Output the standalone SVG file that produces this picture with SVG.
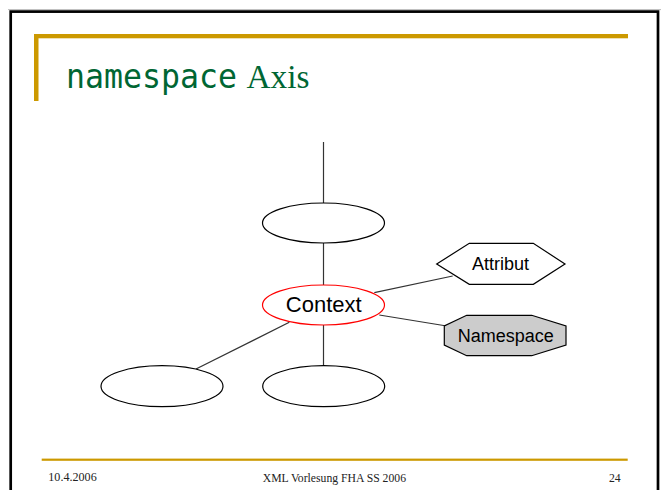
<svg xmlns="http://www.w3.org/2000/svg" width="667" height="490" viewBox="0 0 667 490">
<style>
.frame{fill:none;stroke:#000;stroke-width:2.7}
.gold{fill:#CC9900}
.edge{stroke:#333;stroke-width:1.2;fill:none}
.node{fill:#fff;stroke:#000;stroke-width:1.2}
.lbl{font-family:"Liberation Sans",Arial,sans-serif;fill:#000;text-anchor:middle}
.foot{font-family:"Liberation Serif","DejaVu Serif",serif;font-size:11.5px;fill:#222}
</style>
<rect width="667" height="490" fill="#fff"/>
<line x1="8" y1="9.6" x2="661" y2="9.6" stroke="#bbb" stroke-width="1"/>
<rect class="frame" x="10.7" y="11.6" width="647.3" height="490"/>
<g id="header">
<rect class="gold" x="34" y="34" width="594" height="4.3"/>
<rect class="gold" x="34" y="34" width="4.5" height="67"/>
<text x="66" y="88" font-family="'DejaVu Sans Mono','Liberation Mono',monospace" font-size="33" fill="#006633" textLength="171" lengthAdjust="spacingAndGlyphs">namespace</text>
<text x="246.5" y="88" font-family="'Liberation Serif','Times New Roman',serif" font-size="34" fill="#006633" textLength="63" lengthAdjust="spacingAndGlyphs">Axis</text>
</g>
<g id="connectors">
<line class="edge" x1="323.5" y1="142" x2="323.5" y2="203"/>
<line class="edge" x1="323.5" y1="243" x2="323.5" y2="285"/>
<line class="edge" x1="323.5" y1="325" x2="323.5" y2="366"/>
<line class="edge" x1="289.3" y1="322.3" x2="196" y2="369"/>
<line class="edge" x1="374.3" y1="292.7" x2="452.7" y2="276"/>
<line class="edge" x1="379.3" y1="315" x2="446.7" y2="326"/>
</g>
<g id="parent">
<ellipse class="node" cx="323.5" cy="223" rx="61" ry="20"/>
</g>
<g id="context">
<ellipse cx="323.5" cy="305" rx="61" ry="20" fill="#fff" stroke="#ff0000" stroke-width="1.2"/>
<text class="lbl" x="323.7" y="312.3" font-size="22">Context</text>
</g>
<g id="attribut">
<polygon class="node" points="436.7,264 469.3,243.3 533.3,243.3 565,264 533.3,284.3 469.3,284.3"/>
<text class="lbl" x="500.5" y="270" font-size="18">Attribut</text>
</g>
<g id="namespace">
<polygon points="466.7,315.3 531.7,315.3 566,326 566,345 531.7,355.7 466.7,355.7 444.3,345 444.3,326" fill="#cccccc" stroke="#000" stroke-width="1.2"/>
<text class="lbl" x="505.8" y="341.5" font-size="18">Namespace</text>
</g>
<g id="child1">
<ellipse class="node" cx="162" cy="386.2" rx="61" ry="20.5"/>
</g>
<g id="child2">
<ellipse class="node" cx="323.7" cy="386.2" rx="61" ry="20.5"/>
</g>
<g id="footer">
<rect class="gold" x="41.7" y="458.6" width="586" height="2.2"/>
<text class="foot" x="48.3" y="481" textLength="48.4" lengthAdjust="spacingAndGlyphs">10.4.2006</text>
<text class="foot" x="262.7" y="481.5" textLength="143.3" lengthAdjust="spacingAndGlyphs">XML Vorlesung FHA SS 2006</text>
<text class="foot" x="609" y="481.5" textLength="11.7" lengthAdjust="spacingAndGlyphs">24</text>
</g>
</svg>
